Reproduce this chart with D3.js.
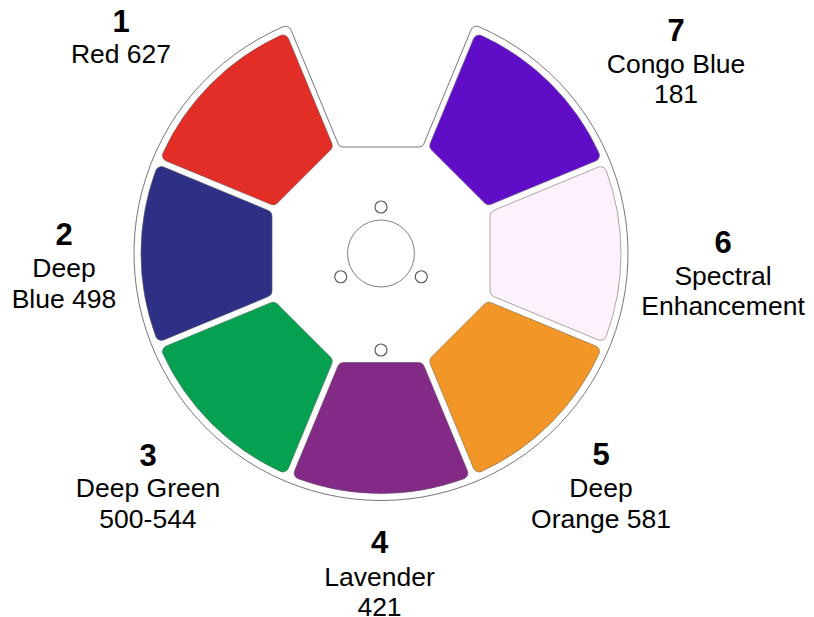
<!DOCTYPE html>
<html>
<head>
<meta charset="utf-8">
<script src="https://cdn.jsdelivr.net/npm/d3@7"></script>
<style>
html, body { margin: 0; padding: 0; background: #fff; }
svg { display: block; }
text { font-family: "Liberation Sans", Arial, sans-serif; fill: #000; text-anchor: middle; }
</style>
</head>
<body>
<div id="wheel"></div>
<script>
// slots of the wheel
var slots = [1, 2, 3, 4, 5, 6, 7];
var filterNames = [
    ["Red 627"],
    ["Deep", "Blue 498"],
    ["Deep Green", "500-544"],
    ["Lavender", "421"],
    ["Deep", "Orange 581"],
    ["Spectral", "Enhancement"],
    ["Congo Blue", "181"]
];
var filterColors = ["#e32e28", "#2d3085", "#05a050", "#822a85", "#f29727", "#fdf1fd", "#5f0dc6"];
var strokeColors = ["#8a4a46", "#55566f", "#4a7a5c", "#6c4a6e", "#8f7550", "#8c7f7f", "#6f5a92"];

// mounting holes: angle from the top (degrees), distance from the hub
var holeAngles = [0, 120, 240, 180];
var holeDistances = [46.5, 46.5, 46.5, 96.5];

// where the labels sit
var labelX = [121, 64, 148, 379.5, 601, 723, 676];
var numberY = [32, 245, 465.5, 553, 465, 253, 41];
var nameY = [63, 277, 497, 585.5, 497, 284.5, 72.5];

var width = 814, height = 617;
var cx = 381, cy = 253.5;
var outerR = 247, filterR = 240, hubR = 33.5, holeR = 6;
var innerDist = 109, notchDist = 106.5;
var sideGap = 3.6, notchGap = 2.6;
var k = Math.tan(Math.PI / 8);

var angle = d3.scaleLinear().domain([1, 7]).range([-45, -315]);

var svg = d3.select("#wheel")
    .append("svg")
    .attr("width", width)
    .attr("height", height);

// centre of the fillet between the line v = k*u + b and the circle of radius R
function fillet(R, r, b) {
    var rho = R - r;
    var a = 1 + k * k;
    var u = (-k * b + Math.sqrt(k * k * b * b - a * (b * b - rho * rho))) / a;
    return { u: u, v: k * u + b };
}

function foot(u, v, b) {
    var t = (u + k * (v - b)) / (1 + k * k);
    return { u: t, v: k * t + b };
}

function ang(x0, y0, x1, y1) {
    return Math.atan2(y1 - y0, x1 - x0);
}

// one filter, pointing up from the centre
function wedgePath(d, R, gap, r) {
    var sec = Math.sqrt(1 + k * k);
    var line = -gap;
    var b = line - r * sec;
    var c = fillet(R, r, b);
    var f = foot(c.u, c.v, line);
    var v0 = k * d + line;
    var tx = c.v * R / (R - r), ty = -c.u * R / (R - r);
    var p = d3.path();
    p.moveTo(0, -d);
    p.arcTo(v0, -d, f.v, -f.u, r);
    p.lineTo(f.v, -f.u);
    p.arc(c.v, -c.u, r, ang(c.v, -c.u, f.v, -f.u), ang(c.v, -c.u, tx, ty), true);
    p.arc(0, 0, R, ang(0, 0, tx, ty), ang(0, 0, -tx, ty), true);
    p.arc(-c.v, -c.u, r, ang(-c.v, -c.u, -tx, ty), ang(-c.v, -c.u, -f.v, -f.u), true);
    p.lineTo(-f.v, -f.u);
    p.arcTo(-v0, -d, 0, -d, r);
    p.closePath();
    return p.toString();
}

// the wheel outline, with the open slot at the top
function outlinePath(d, R, gap, r, r2) {
    var sec = Math.sqrt(1 + k * k);
    var line = -gap;
    var b = line + r * sec;
    var c = fillet(R, r, b);
    var f = foot(c.u, c.v, line);
    var v0 = k * d + line;
    var tx = c.v * R / (R - r), ty = -c.u * R / (R - r);
    var p = d3.path();
    p.moveTo(0, -d);
    p.arcTo(v0, -d, f.v, -f.u, r2);
    p.lineTo(f.v, -f.u);
    p.arc(c.v, -c.u, r, ang(c.v, -c.u, f.v, -f.u), ang(c.v, -c.u, tx, ty), false);
    p.arc(0, 0, R, ang(0, 0, tx, ty), ang(0, 0, -tx, ty), false);
    p.arc(-c.v, -c.u, r, ang(-c.v, -c.u, -tx, ty), ang(-c.v, -c.u, -f.v, -f.u), false);
    p.lineTo(-f.v, -f.u);
    p.arcTo(-v0, -d, 0, -d, r2);
    p.closePath();
    return p.toString();
}

var wheel = svg.append("g")
    .attr("transform", "translate(" + cx + "," + cy + ")");

wheel.append("path")
    .attr("d", outlinePath(notchDist, outerR, notchGap, 6, 5))
    .attr("fill", "#fff")
    .attr("stroke", "#777")
    .attr("stroke-width", 1);

wheel.selectAll(".filter")
    .data(slots)
    .enter()
    .append("path")
    .attr("class", "filter")
    .attr("d", wedgePath(innerDist, filterR, sideGap, 6))
    .attr("transform", function (d) { return "rotate(" + angle(d) + ")"; })
    .attr("fill", function (d, i) { return filterColors[i]; })
    .attr("stroke", function (d, i) { return strokeColors[i]; })
    .attr("stroke-width", 0.7);

wheel.append("circle")
    .attr("r", hubR)
    .attr("fill", "#fff")
    .attr("stroke", "#808080")
    .attr("stroke-width", 1);

wheel.selectAll(".hole")
    .data(holeAngles)
    .enter()
    .append("circle")
    .attr("class", "hole")
    .attr("cx", function (d, i) { return holeDistances[i] * Math.sin(d * Math.PI / 180); })
    .attr("cy", function (d, i) { return -holeDistances[i] * Math.cos(d * Math.PI / 180); })
    .attr("r", holeR)
    .attr("fill", "#fff")
    .attr("stroke", "#5a5a5a")
    .attr("stroke-width", 1.2);

// labels
var labels = svg.selectAll(".label")
    .data(slots)
    .enter()
    .append("g")
    .attr("class", "label");

labels.append("text")
    .attr("x", function (d, i) { return labelX[i]; })
    .attr("y", function (d, i) { return numberY[i]; })
    .attr("font-size", 31)
    .attr("font-weight", "bold")
    .text(function (d) { return d; });

labels.each(function (d, i) {
    d3.select(this).selectAll(".name")
        .data(filterNames[i])
        .enter()
        .append("text")
        .attr("class", "name")
        .attr("x", labelX[i])
        .attr("y", function (t, j) { return nameY[i] + j * 30.5; })
        .attr("font-size", 26.5)
        .text(function (t) { return t; });
});
</script>
</body>
</html>
